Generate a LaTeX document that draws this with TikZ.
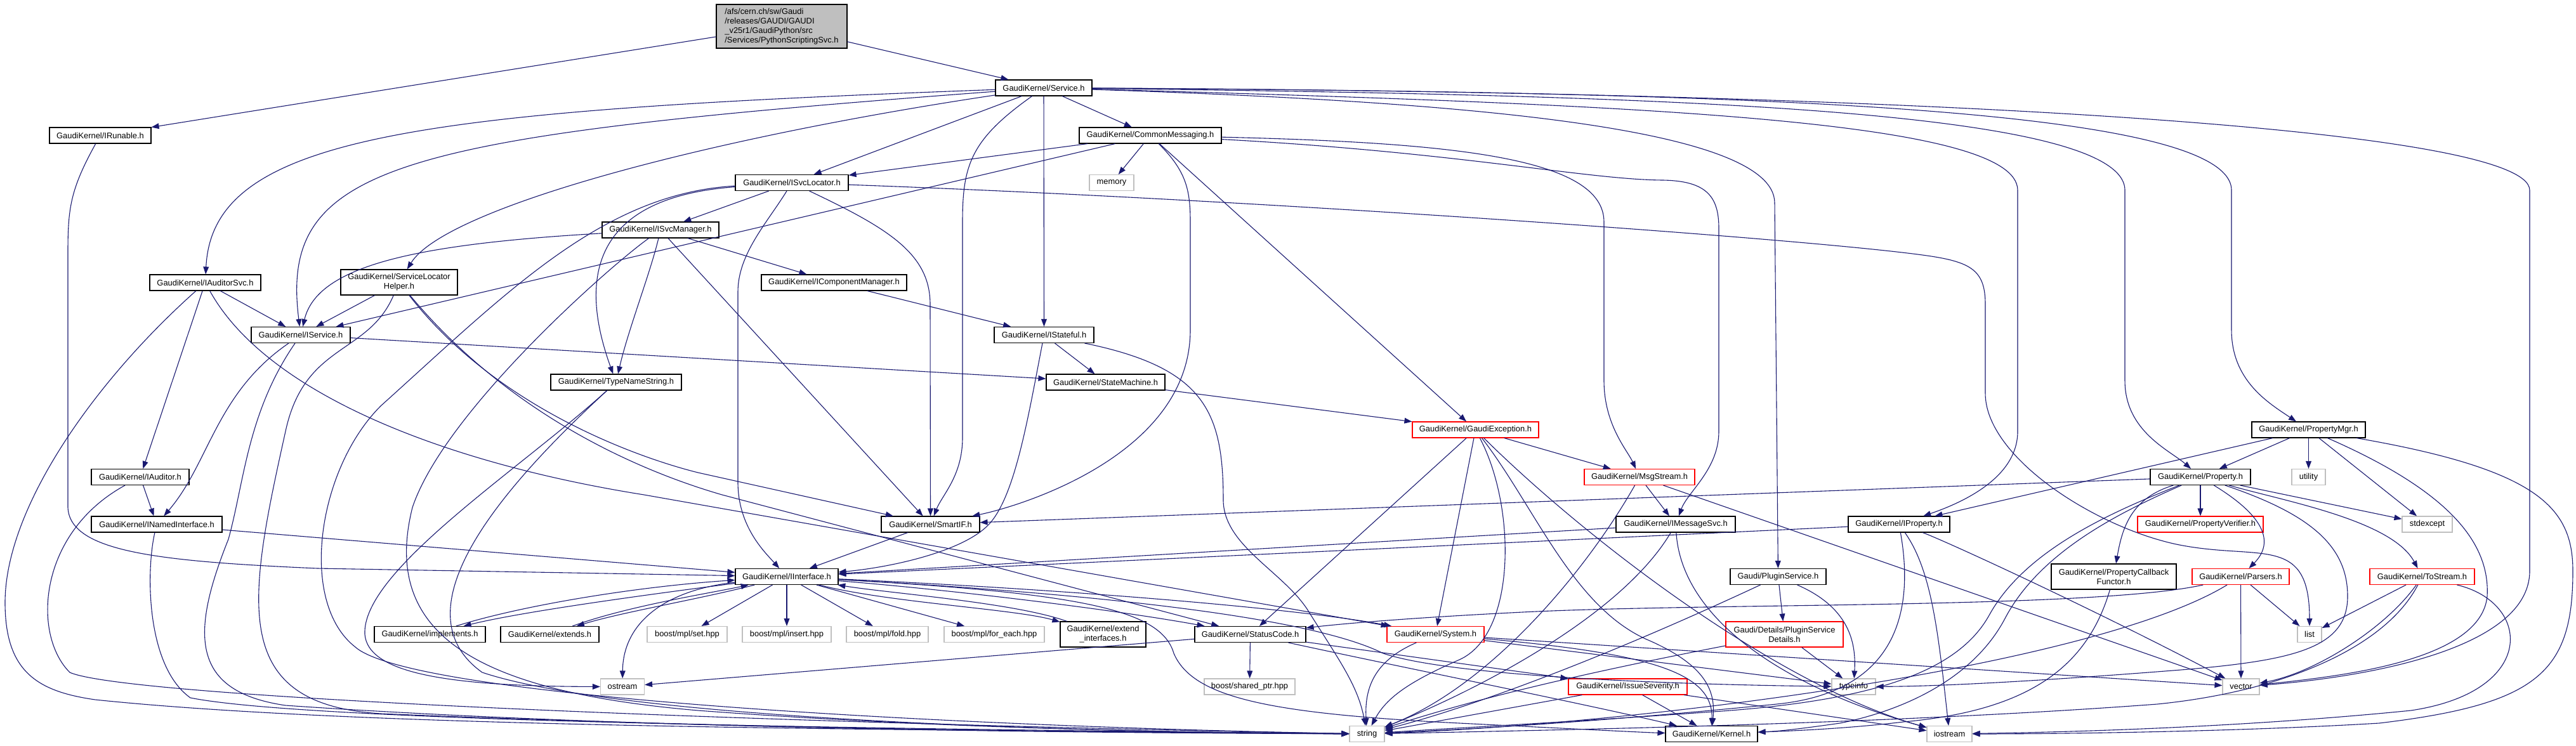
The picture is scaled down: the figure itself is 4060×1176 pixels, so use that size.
\documentclass[tikz,border=0pt]{standalone}
\usepackage{fontspec}
\setmainfont{Liberation Sans}
\usetikzlibrary{arrows.meta}
\definecolor{edgec}{HTML}{191970}
\definecolor{redb}{HTML}{FF0000}
\definecolor{grayb}{HTML}{BFBFBF}
\begin{document}
\begin{tikzpicture}[x=0.5pt,y=-0.5pt,
  every node/.style={font=\fontsize{6.45pt}{7.4pt}\selectfont},
  box/.style={draw=black,line width=0.55pt,fill=white,inner sep=0pt,minimum height=12.5pt,align=center},
  redbox/.style={box,draw=redb},
  graybox/.style={box,draw=grayb},
  e/.style={draw=edgec,line width=0.55pt,-{Triangle[length=6pt,width=4.4pt]}}]
\useasboundingbox (0,0) rectangle (4060,1176);
% nodes
\node[box,fill=grayb,minimum width=103pt,minimum height=34.5pt,align=left] (root) at (1232,41.5) {/afs/cern.ch/sw/Gaudi\\/releases/GAUDI/GAUDI\\\_v25r1/GaudiPython/src\\/Services/PythonScriptingSvc.h};
\node[box,minimum width=80pt] (IRunable) at (158,213.5) {GaudiKernel/IRunable.h};
\node[box,minimum width=76pt] (Service) at (1645,138.5) {GaudiKernel/Service.h};
\node[box,minimum width=112pt] (CM) at (1813,213.5) {GaudiKernel/CommonMessaging.h};
\node[box,minimum width=89pt] (ISvcLocator) at (1248,288) {GaudiKernel/ISvcLocator.h};
\node[graybox,minimum width=35pt] (memory) at (1752,288) {memory};
\node[box,minimum width=92pt] (ISvcManager) at (1041,362.5) {GaudiKernel/ISvcManager.h};
\node[box,minimum width=87.5pt] (IAuditorSvc) at (323.5,445.5) {GaudiKernel/IAuditorSvc.h};
\node[box,minimum width=92pt,minimum height=20pt] (SLH) at (629,445) {GaudiKernel/ServiceLocator\\Helper.h};
\node[box,minimum width=114.5pt] (ICM) at (1314.5,445.5) {GaudiKernel/IComponentManager.h};
\node[box,minimum width=78pt] (IService) at (474,528) {GaudiKernel/IService.h};
\node[box,minimum width=78.5pt] (IStateful) at (1645.5,528) {GaudiKernel/IStateful.h};
\node[box,minimum width=103pt] (TNS) at (971,602.5) {GaudiKernel/TypeNameString.h};
\node[box,minimum width=93.5pt] (SM) at (1742.5,602.5) {GaudiKernel/StateMachine.h};
\node[redbox,minimum width=99.5pt] (GE) at (2325.5,677.5) {GaudiKernel/GaudiException.h};
\node[box,minimum width=89.5pt] (PMgr) at (3638.5,677.5) {GaudiKernel/PropertyMgr.h};
\node[box,minimum width=77pt] (IAuditor) at (221,752) {GaudiKernel/IAuditor.h};
\node[redbox,minimum width=87pt] (MsgStream) at (2584,752) {GaudiKernel/MsgStream.h};
\node[box,minimum width=79pt] (Property) at (3468,752) {GaudiKernel/Property.h};
\node[graybox,minimum width=26.5pt] (utility) at (3638.5,752) {utility};
\node[box,minimum width=103pt] (INamed) at (247,826.5) {GaudiKernel/INamedInterface.h};
\node[box,minimum width=77.5pt] (SmartIF) at (1466.5,826.5) {GaudiKernel/SmartIF.h};
\node[box,minimum width=94pt] (IMsgSvc) at (2641,826.5) {GaudiKernel/IMessageSvc.h};
\node[box,minimum width=80pt] (IProperty) at (2993,826.5) {GaudiKernel/IProperty.h};
\node[redbox,minimum width=99pt] (PVerifier) at (3468,826.5) {GaudiKernel/PropertyVerifier.h};
\node[graybox,minimum width=39.5pt] (stdexcept) at (3825.5,826.5) {stdexcept};
\node[box,minimum width=81pt] (IInterface) at (1240,909) {GaudiKernel/IInterface.h};
\node[box,minimum width=75.5pt] (PluginSvc) at (2802.5,909) {Gaudi/PluginService.h};
\node[box,minimum width=98.5pt,minimum height=20pt] (PCF) at (3331.5,909) {GaudiKernel/PropertyCallback\\Functor.h};
\node[redbox,minimum width=76.5pt] (Parsers) at (3531.5,909) {GaudiKernel/Parsers.h};
\node[redbox,minimum width=82.5pt] (ToStream) at (3817.5,909) {GaudiKernel/ToStream.h};
\node[box,minimum width=87.5pt] (implements) at (677.5,1000) {GaudiKernel/implements.h};
\node[box,minimum width=77.5pt] (extends) at (866.5,1000) {GaudiKernel/extends.h};
\node[graybox,minimum width=63pt] (mplset) at (1083,1000) {boost/mpl/set.hpp};
\node[graybox,minimum width=70pt] (mplinsert) at (1240,1000) {boost/mpl/insert.hpp};
\node[graybox,minimum width=64.5pt] (mplfold) at (1398.5,1000) {boost/mpl/fold.hpp};
\node[graybox,minimum width=79pt] (mplforeach) at (1567,1000) {boost/mpl/for\_each.hpp};
\node[box,minimum width=67.5pt,minimum height=20pt] (extint) at (1738.5,1000) {GaudiKernel/extend\\\_interfaces.h};
\node[box,minimum width=87.5pt] (StatusCode) at (1970.5,1000) {GaudiKernel/StatusCode.h};
\node[redbox,minimum width=76.5pt] (System) at (2262.5,1000) {GaudiKernel/System.h};
\node[redbox,minimum width=92.5pt,minimum height=20pt] (PSD) at (2812.5,1000) {Gaudi/Details/PluginService\\Details.h};
\node[graybox,minimum width=19pt] (list) at (3640,1000) {list};
\node[graybox,minimum width=34.5pt] (ostream) at (981,1082.5) {ostream};
\node[graybox,minimum width=71.5pt] (sharedptr) at (1969.5,1082.5) {boost/shared\_ptr.hpp};
\node[redbox,minimum width=93.5pt] (IssueSev) at (2565.5,1082.5) {GaudiKernel/IssueSeverity.h};
\node[graybox,minimum width=34.5pt] (typeinfo) at (2921.5,1082.5) {typeinfo};
\node[graybox,minimum width=29pt] (vector) at (3532,1082.5) {vector};
\node[graybox,minimum width=27.5pt] (string) at (2154.5,1157) {string};
\node[box,minimum width=72.5pt] (Kernel) at (2697.5,1157) {GaudiKernel/Kernel.h};
\node[graybox,minimum width=35.5pt] (iostream) at (3072.5,1157) {iostream};
% edges: root
\draw[e] (root) -- (IRunable);
\draw[e] (root) -- (Service);
% Service
\draw[e] (Service) .. controls (650,175) and (335,215) .. (IAuditorSvc);
\draw[e] (Service) .. controls (620,215) and (440,260) .. (IService);
\draw[e] (Service) .. controls (1100,220) and (700,330) .. (SLH);
\draw[e] (Service) -- (ISvcLocator);
\draw[e] (Service) .. controls (1530,220) and (1517,260) .. (1517,350) -- (1517,690) .. controls (1517,750) and (1485,780) .. (SmartIF);
\draw[e] (Service) -- (IStateful);
\draw[e] (Service) -- (CM);
\draw[e] (Service) .. controls (2300,160) and (2797,200) .. (2797,320) -- (PluginSvc);
\draw[e] (Service) .. controls (2600,165) and (3180,190) .. (3180,300) -- (3180,680) .. controls (3180,750) and (3100,790) .. (IProperty);
\draw[e] (Service) .. controls (2600,150) and (3349,170) .. (3349,300) -- (3349,600) .. controls (3349,680) and (3420,710) .. (Property);
\draw[e] (Service) .. controls (2700,145) and (3517,165) .. (3517,300) -- (3517,520) .. controls (3517,600) and (3575,635) .. (PMgr);
\draw[e] (Service) .. controls (3000,145) and (3987,200) .. (3987,300) -- (3987,900) .. controls (3987,1030) and (3700,1070) .. (vector);
% CommonMessaging
\draw[e] (CM) -- (ISvcLocator);
\draw[e] (CM) -- (IService);
\draw[e] (CM) -- (memory);
\draw[e] (CM) .. controls (1870,270) and (1876,300) .. (1876,350) -- (1876,520) .. controls (1876,720) and (1600,800) .. (SmartIF);
\draw[e] (CM) -- (GE);
\draw[e] (CM) .. controls (2300,225) and (2528,250) .. (2528,350) -- (2528,600) .. controls (2528,670) and (2565,710) .. (MsgStream);
\draw[e] (CM) .. controls (2300,240) and (2500,283) .. (2620,284) .. controls (2690,285) and (2709,310) .. (2709,360) -- (2709,680) .. controls (2709,740) and (2660,775) .. (IMsgSvc);
% ISvcLocator
\draw[e] (ISvcLocator) -- (ISvcManager);
\draw[e] (ISvcLocator) .. controls (950,310) and (905,420) .. (TNS);
\draw[e] (ISvcLocator) .. controls (950,305) and (800,460) .. (600,640) .. controls (500,740) and (470,950) .. (560,1020) .. controls (650,1100) and (1500,1145) .. (string);
\draw[e] (ISvcLocator) .. controls (1210,350) and (1163,400) .. (1163,460) -- (1163,760) .. controls (1163,830) and (1205,870) .. (IInterface);
\draw[e] (ISvcLocator) .. controls (1400,360) and (1466,400) .. (1466,480) -- (SmartIF);
\draw[e] (ISvcLocator) .. controls (2000,315) and (2900,380) .. (3050,405) .. controls (3110,415) and (3129,430) .. (3129,480) -- (3129,620) .. controls (3129,720) and (3300,830) .. (3430,858) .. controls (3560,885) and (3640,840) .. (list);
% ISvcManager
\draw[e] (ISvcManager) .. controls (650,385) and (500,420) .. (IService);
\draw[e] (ISvcManager) -- (ICM);
\draw[e] (ISvcManager) .. controls (1025,430) and (990,520) .. (TNS);
\draw[e] (ISvcManager) -- (SmartIF);
\draw[e] (ISvcManager) .. controls (960,420) and (700,650) .. (650,800) .. controls (600,1000) and (750,1090) .. (1100,1120) .. controls (1500,1150) and (1900,1155) .. (string);
\draw[e] (ICM) -- (IStateful);
\draw[e] (IStateful) -- (SM);
\draw[e] (IStateful) .. controls (1620,660) and (1600,780) .. (1560,825) .. controls (1520,870) and (1400,895) .. (IInterface);
\draw[e] (IStateful) .. controls (1900,580) and (1928,650) .. (1928,790) .. controls (1930,860) and (2020,900) .. (2060,960) .. controls (2110,1040) and (2140,1080) .. (string);
% IAuditorSvc
\draw[e] (IAuditorSvc) .. controls (150,600) and (8,800) .. (8,950) .. controls (8,1060) and (60,1090) .. (150,1103) .. controls (600,1150) and (1500,1150) .. (string);
\draw[e] (IAuditorSvc) -- (IService);
\draw[e] (IAuditorSvc) -- (IAuditor);
\draw[e] (IAuditorSvc) .. controls (420,620) and (700,730) .. (1015,780) -- (System);
\draw[e] (IAuditor) -- (INamed);
\draw[e] (IAuditor) .. controls (60,840) and (50,1000) .. (110,1060) .. controls (200,1100) and (1200,1140) .. (string);
\draw[e] (INamed) .. controls (230,900) and (230,1050) .. (300,1100) .. controls (500,1140) and (1500,1150) .. (string);
% IService
\draw[e] (IService) .. controls (340,620) and (330,730) .. (INamed);
\draw[e] (IService) .. controls (390,650) and (385,760) .. (360,850) .. controls (300,1000) and (300,1090) .. (450,1112) .. controls (1000,1150) and (1700,1155) .. (string);
\draw[e] (IService) -- (SM);
% SLH
\draw[e] (SLH) -- (IService);
\draw[e] (SLH) .. controls (580,560) and (480,540) .. (450,680) .. controls (390,950) and (360,1110) .. (600,1125) .. controls (1200,1150) and (1800,1155) .. (string);
\draw[e] (SLH) .. controls (780,640) and (1000,720) .. (1100,745) -- (SmartIF);
\draw[e] (SLH) .. controls (800,650) and (1000,740) .. (1138,780) -- (StatusCode);
% TNS
\draw[e] (TNS) .. controls (800,760) and (620,960) .. (760,1060) .. controls (1000,1140) and (1800,1155) .. (string);
\draw[e] (TNS) .. controls (820,740) and (570,900) .. (575,1000) .. controls (580,1060) and (700,1082) .. (ostream);
\draw[e] (SM) -- (GE);
% GaudiException
\draw[e] (GE) -- (MsgStream);
\draw[e] (GE) -- (StatusCode);
\draw[e] (GE) -- (System);
\draw[e] (GE) .. controls (2390,800) and (2390,1000) .. (2300,1040) .. controls (2220,1075) and (2185,1100) .. (string);
\draw[e] (GE) .. controls (2420,800) and (2480,960) .. (2600,1010) .. controls (2690,1050) and (2704,1090) .. (Kernel);
\draw[e] (GE) .. controls (2500,850) and (2800,1080) .. (iostream);
% MsgStream
\draw[e] (MsgStream) -- (IMsgSvc);
\draw[e] (MsgStream) .. controls (2500,900) and (2350,1080) .. (string);
\draw[e] (MsgStream) -- (vector);
% IMessageSvc
\draw[e] (IMsgSvc) -- (IInterface);
\draw[e] (IMsgSvc) .. controls (2550,980) and (2300,1100) .. (string);
\draw[e] (IMsgSvc) .. controls (2650,970) and (2800,1080) .. (iostream);
% IProperty
\draw[e] (IProperty) -- (IInterface);
\draw[e] (IProperty) .. controls (3015,950) and (3000,1090) .. (2800,1110) .. controls (2500,1140) and (2300,1150) .. (string);
\draw[e] (IProperty) .. controls (3060,850) and (3300,960) .. (vector);
\draw[e] (IProperty) .. controls (3045,900) and (3055,1000) .. (iostream);
% PluginService
\draw[e] (PluginSvc) .. controls (2500,1050) and (2300,1120) .. (string);
\draw[e] (PluginSvc) -- (PSD);
\draw[e] (PluginSvc) .. controls (2920,960) and (2925,1020) .. (typeinfo);
\draw[e] (PSD) -- (typeinfo);
\draw[e] (PSD) .. controls (2450,1070) and (2300,1110) .. (string);
% StatusCode
\draw[e] (StatusCode) -- (sharedptr);
\draw[e] (StatusCode) -- (ostream);
\draw[e] (StatusCode) -- (IssueSev);
\draw[e] (StatusCode) .. controls (2200,1050) and (2500,1110) .. (Kernel);
% System
\draw[e] (System) .. controls (2170,1040) and (2150,1080) .. (string);
\draw[e] (System) -- (typeinfo);
\draw[e] (System) .. controls (2600,1030) and (2700,1060) .. (Kernel);
\draw[e] (System) -- (vector);
% IssueSeverity
\draw[e] (IssueSev) -- (Kernel);
\draw[e] (IssueSev) -- (string);
\draw[e] (IssueSev) -- (iostream);
% Property
\draw[e] (Property) -- (PVerifier);
\draw[e] (Property) .. controls (3530,790) and (3600,840) .. (Parsers);
\draw[e] (Property) .. controls (3600,790) and (3770,820) .. (ToStream);
\draw[e] (Property) .. controls (3360,785) and (3345,830) .. (PCF);
\draw[e] (Property) -- (stdexcept);
\draw[e] (Property) .. controls (3640,810) and (3700,860) .. (3700,940) .. controls (3700,1020) and (3620,1040) .. (3450,1055) .. controls (3200,1075) and (3050,1082) .. (typeinfo);
\draw[e] (Property) -- (SmartIF);
\draw[e] (Property) .. controls (3320,810) and (3190,870) .. (3135,970) .. controls (3085,1060) and (2950,1105) .. (2700,1122) .. controls (2450,1140) and (2250,1150) .. (string);
\draw[e] (Property) .. controls (3340,808) and (3215,870) .. (3160,975) .. controls (3110,1070) and (3000,1120) .. (2900,1140) .. controls (2830,1150) and (2800,1153) .. (Kernel);
% PropertyMgr
\draw[e] (PMgr) -- (Property);
\draw[e] (PMgr) -- (utility);
\draw[e] (PMgr) -- (IProperty);
\draw[e] (PMgr) -- (stdexcept);
\draw[e] (PMgr) .. controls (3850,770) and (3925,850) .. (3920,940) .. controls (3910,1040) and (3700,1065) .. (vector);
\draw[e] (PMgr) .. controls (4000,740) and (4055,800) .. (4055,900) .. controls (4055,1060) and (4000,1110) .. (3750,1140) .. controls (3500,1155) and (3200,1157) .. (iostream);
% Parsers, ToStream, PCF
\draw[e] (Parsers) -- (list);
\draw[e] (Parsers) -- (vector);
\draw[e] (Parsers) .. controls (3300,960) and (2700,950) .. (2400,965) .. controls (2200,975) and (2100,985) .. (StatusCode);
\draw[e] (Parsers) .. controls (3300,1050) and (2600,1140) .. (string);
\draw[e] (ToStream) -- (list);
\draw[e] (ToStream) .. controls (3760,990) and (3650,1060) .. (vector);
\draw[e] (ToStream) .. controls (3990,950) and (4000,1090) .. (3800,1120) .. controls (3500,1150) and (3200,1155) .. (iostream);
\draw[e] (ToStream) .. controls (3760,1020) and (3600,1090) .. (3400,1110) .. controls (3000,1140) and (2500,1150) .. (string);
\draw[e] (PCF) .. controls (3290,1050) and (3200,1120) .. (3000,1138) .. controls (2900,1150) and (2800,1153) .. (Kernel);
% IInterface family
\draw[e] (IRunable) .. controls (110,300) and (107,330) .. (107,400) -- (107,800) .. controls (110,870) and (250,885) .. (500,896) -- (IInterface);
\draw[e] (INamed) -- (IInterface);
\draw[e] (SmartIF) -- (IInterface);
\draw[e] (IInterface) -- (mplset);
\draw[e] (IInterface) -- (mplinsert);
\draw[e] (IInterface) -- (mplfold);
\draw[e] (IInterface) -- (mplforeach);
\draw[e] (IInterface) .. controls (1400,950) and (1600,960) .. (extint);
\draw[e] (extint) .. controls (1600,950) and (1400,935) .. (IInterface);
\draw[e] (IInterface) .. controls (1000,940) and (820,965) .. (implements);
\draw[e] (implements) .. controls (820,955) and (1000,925) .. (IInterface);
\draw[e] (IInterface) .. controls (1100,945) and (980,965) .. (extends);
\draw[e] (extends) .. controls (990,955) and (1120,935) .. (IInterface);
\draw[e] (IInterface) .. controls (1050,930) and (982,980) .. (ostream);
\draw[e] (IInterface) .. controls (1500,930) and (1750,960) .. (StatusCode);
\draw[e] (IInterface) .. controls (1700,930) and (2050,960) .. (System);
\draw[e] (IInterface) .. controls (1800,940) and (2080,980) .. (2180,1030) .. controls (2300,1070) and (2700,1080) .. (typeinfo);
\draw[e] (IInterface) .. controls (1700,935) and (1830,960) .. (1850,1030) .. controls (1880,1100) and (2000,1125) .. (2300,1140) .. controls (2500,1150) and (2600,1155) .. (Kernel);
\end{tikzpicture}
\end{document}
